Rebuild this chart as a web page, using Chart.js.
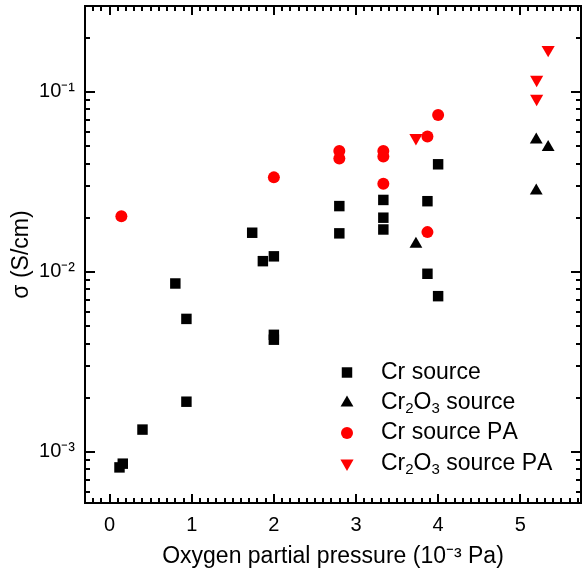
<!DOCTYPE html>
<html>
<head>
<meta charset="utf-8">
<script src="https://cdn.jsdelivr.net/npm/chart.js@4.4.1/dist/chart.umd.min.js"></script>
<style>
  html, body { margin: 0; padding: 0; background: #fff; }
  #wrap { width: 585px; height: 582px; }
</style>
</head>
<body>
<div id="wrap"><canvas id="c" width="585" height="582"></canvas></div>
<script>
// ---- data ----
const crX = [0.12, 0.16, 0.40, 0.80, 0.935, 0.935, 1.736, 1.866, 2.0, 2.0, 2.0, 2.797, 2.797, 3.333, 3.333, 3.333, 3.87, 3.87, 4.0, 4.0];
const crY = [8.2e-4, 8.6e-4, 1.33e-3, 8.62e-3, 5.48e-3, 1.9e-3, 1.65e-2, 1.147e-2, 1.22e-2, 4.47e-3, 4.2e-3, 2.32e-2, 1.637e-2, 2.51e-2, 2.0e-2, 1.72e-2, 2.47e-2, 9.76e-3, 3.96e-2, 7.33e-3];

const cr2o3X = [3.73, 5.195, 5.34, 5.195];
const cr2o3Y = [1.426e-2, 5.41e-2, 4.92e-2, 2.82e-2];

const crPAX = [0.143, 2.0, 2.797, 2.797, 3.333, 3.333, 3.333, 3.87, 3.87, 4.0];
const crPAY = [2.04e-2, 3.35e-2, 4.7e-2, 4.26e-2, 4.7e-2, 4.37e-2, 3.09e-2, 5.65e-2, 1.663e-2, 7.44e-2];

const cr2o3PAX = [3.73, 5.2, 5.2, 5.34];
const cr2o3PAY = [5.55e-2, 0.117, 0.0918, 0.1714];

const seriesLabels = ['Cr source', 'Cr₂O₃ source', 'Cr source PA', 'Cr₂O₃ source PA'];
const xTitle = 'Oxygen partial pressure (10⁻³ Pa)';
const yTitle = 'σ (S/cm)';
const xTickValues = [0, 1, 2, 3, 4, 5];
const yTickValues = [1e-3, 1e-2, 1e-1];
const yTickLabels = ['10⁻³', '10⁻²', '10⁻¹'];
const xRange = [-0.3, 5.74];
const yRange = [5.2e-4, 0.3];

const FONT = "'Liberation Sans', Arial, sans-serif";
const pts = (xs, ys) => xs.map((x, i) => ({x: x, y: ys[i]}));

function drawMarker(ctx, style, x, y, r, rot, color) {
  ctx.save();
  ctx.fillStyle = color;
  ctx.beginPath();
  if (style === 'rect') {
    const s = Math.SQRT1_2 * r;
    ctx.rect(x - s, y - s, 2 * s, 2 * s);
  } else if (style === 'circle') {
    ctx.arc(x, y, r, 0, Math.PI * 2);
  } else if (style === 'triangle') {
    let a = rot * Math.PI / 180;
    for (let k = 0; k < 3; k++) {
      const px = x + Math.sin(a) * r, py = y - Math.cos(a) * r;
      if (k === 0) ctx.moveTo(px, py); else ctx.lineTo(px, py);
      a += 2 * Math.PI / 3;
    }
    ctx.closePath();
  }
  ctx.fill();
  ctx.restore();
}

function drawRich(ctx, text, x, y, size) {
  const subs = {'₂': '2', '₃': '3'};
  let cx = x;
  for (const ch of text) {
    if (subs[ch]) {
      ctx.font = Math.round(size * 0.65) + 'px ' + FONT;
      ctx.fillText(subs[ch], cx, y + size * 0.28);
      cx += ctx.measureText(subs[ch]).width;
    } else {
      ctx.font = size + 'px ' + FONT;
      ctx.fillText(ch, cx, y);
      cx += ctx.measureText(ch).width;
    }
  }
}

const framePlugin = {
  id: 'frame',
  afterDraw(chart) {
    const ctx = chart.ctx;
    const a = chart.chartArea;
    const xs = chart.scales.x, ys = chart.scales.y;
    ctx.save();
    ctx.strokeStyle = '#000';
    ctx.lineWidth = 2;
    ctx.strokeRect(a.left, a.top, a.right - a.left, a.bottom - a.top);
    ctx.beginPath();
    for (let i = -3; i <= 57; i++) {
      const v = i / 10;
      const px = Math.round(xs.getPixelForValue(v));
      if (px <= a.left + 1 || px >= a.right - 1) continue;
      const len = (i % 10 === 0) ? 9 : 5;
      ctx.moveTo(px, a.bottom); ctx.lineTo(px, a.bottom - len);
      ctx.moveTo(px, a.top); ctx.lineTo(px, a.top + len);
    }
    for (let d = -4; d <= 0; d++) {
      for (let m = 1; m <= 9; m++) {
        const v = m * Math.pow(10, d);
        if (v <= yRange[0] || v >= yRange[1]) continue;
        const py = Math.round(ys.getPixelForValue(v));
        if (py <= a.top + 1 || py >= a.bottom - 1) continue;
        const len = (m === 1) ? 10 : 5;
        ctx.moveTo(a.left, py); ctx.lineTo(a.left + len, py);
        ctx.moveTo(a.right, py); ctx.lineTo(a.right - len, py);
      }
    }
    ctx.stroke();

    const lx = 347, tx = 381, y0 = 372.5, dy = 30.3;
    ctx.textBaseline = 'middle';
    ctx.textAlign = 'left';
    chart.data.datasets.forEach((ds, i) => {
      const y = y0 + i * dy;
      drawMarker(ctx, ds.pointStyle, lx, y, ds.pointRadius, ds.rotation || 0, ds.backgroundColor);
      ctx.fillStyle = '#000';
      drawRich(ctx, ds.label, tx, y, 23);
    });
    ctx.restore();
  }
};

function noPad(s) { s.paddingTop = 0; s.paddingBottom = 0; s.paddingLeft = 0; s.paddingRight = 0; }

new Chart(document.getElementById('c'), {
  type: 'scatter',
  data: {
    datasets: [
      { label: seriesLabels[0], data: pts(crX, crY), pointStyle: 'rect', pointRadius: 7.4, pointHoverRadius: 7.4,
        backgroundColor: '#000', borderColor: '#000', borderWidth: 0 },
      { label: seriesLabels[1], data: pts(cr2o3X, cr2o3Y), pointStyle: 'triangle', pointRadius: 7.4, pointHoverRadius: 7.4,
        backgroundColor: '#000', borderColor: '#000', borderWidth: 0 },
      { label: seriesLabels[2], data: pts(crPAX, crPAY), pointStyle: 'circle', pointRadius: 6, pointHoverRadius: 6,
        backgroundColor: '#ff0000', borderColor: '#ff0000', borderWidth: 0 },
      { label: seriesLabels[3], data: pts(cr2o3PAX, cr2o3PAY), pointStyle: 'triangle', rotation: 180, pointRadius: 7.6, pointHoverRadius: 7.6,
        backgroundColor: '#ff0000', borderColor: '#ff0000', borderWidth: 0 }
    ]
  },
  options: {
    responsive: false,
    animation: false,
    events: [],
    layout: { autoPadding: false, padding: { top: 6, right: 4, left: 0, bottom: 0 } },
    plugins: { legend: { display: false }, tooltip: { enabled: false } },
    scales: {
      x: {
        type: 'linear', min: xRange[0], max: xRange[1],
        grid: { display: false, drawTicks: false },
        border: { display: false },
        afterBuildTicks(s) { s.ticks = xTickValues.map(v => ({ value: v })); },
        afterFit(s) { s.height = 79; noPad(s); },
        ticks: {
          autoSkip: false, maxRotation: 0, padding: 10, color: '#000',
          font: { family: FONT, size: 20 },
          callback(v) { return String(v); }
        },
        title: { display: true, text: xTitle, color: '#000', font: { family: FONT, size: 23 },
                 padding: { top: 0, bottom: 12 } }
      },
      y: {
        type: 'logarithmic', min: yRange[0], max: yRange[1],
        grid: { display: false, drawTicks: false },
        border: { display: false },
        afterBuildTicks(s) { s.ticks = yTickValues.map(v => ({ value: v })); },
        afterFit(s) { s.width = 85; noPad(s); },
        ticks: {
          autoSkip: false, padding: 10, color: '#000',
          font: { family: FONT, size: 20 },
          callback(v, i) { return yTickLabels[i]; }
        },
        title: { display: true, text: yTitle, color: '#000', font: { family: FONT, size: 23 },
                 padding: { top: 8, bottom: 0 } }
      }
    }
  },
  plugins: [framePlugin]
});
</script>
</body>
</html>
